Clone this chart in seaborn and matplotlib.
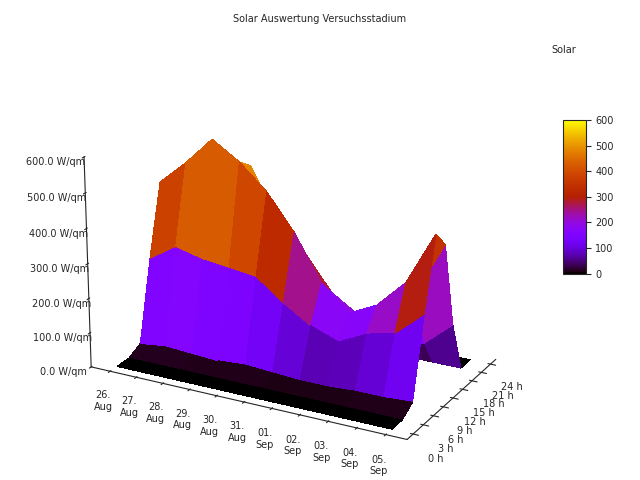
import numpy as np
import matplotlib
matplotlib.use("Agg")
import matplotlib.pyplot as plt
import seaborn as sns

sns.set_style("white")
plt.rcParams['font.family'] = ['DejaVu Sans']

days = ["26.\nAug", "27.\nAug", "28.\nAug", "29.\nAug", "30.\nAug", "31.\nAug",
        "01.\nSep", "02.\nSep", "03.\nSep", "04.\nSep", "05.\nSep"]
hours = [0, 3, 6, 9, 12, 15, 18, 21, 24]
hour_labels = ["0 h", "3 h", "6 h", "9 h", "12 h", "15 h", "18 h", "21 h", "24 h"]
solar = [
    [0, 0, 20, 250, 450, 400, 120, 0, 0],
    [0, 0, 30, 300, 520, 480, 150, 0, 0],
    [0, 0, 25, 280, 600, 500, 140, 0, 0],
    [0, 0, 20, 270, 550, 520, 130, 0, 0],
    [0, 0, 25, 260, 480, 380, 100, 0, 0],
    [0, 0, 20, 200, 380, 300, 80, 0, 0],
    [0, 0, 15, 150, 250, 200, 60, 0, 0],
    [0, 0, 15, 120, 180, 150, 50, 0, 0],
    [0, 0, 20, 160, 220, 180, 60, 0, 0],
    [0, 0, 20, 180, 300, 250, 80, 0, 0],
    [0, 0, 25, 250, 450, 400, 150, 0, 0],
]

Z = np.array(solar, dtype=float)
X, Y = np.meshgrid(np.arange(len(days)), hours, indexing="ij")

fig = plt.figure(figsize=(6.4, 4.8), dpi=100)
ax = fig.add_axes([0.0, -0.03, 0.9, 0.95], projection="3d")
ax.set_box_aspect((2.2, 1.3, 1.4))
surf = ax.plot_surface(X, Y, Z, cmap="gnuplot", vmin=0, vmax=600,
                       linewidth=0, antialiased=False, shade=False)
ax.set_xticks(np.arange(len(days)))
ax.set_xticklabels(days, fontsize=7)
ax.set_yticks(hours)
ax.set_yticklabels(hour_labels, fontsize=7)
ax.set_zlim(0, 600)
ax.set_zticks([0, 100, 200, 300, 400, 500, 600])
ax.set_zticklabels([f"{v:.1f} W/qm" for v in range(0, 601, 100)], fontsize=7)
ax.view_init(elev=22, azim=-62)
ax.zaxis.set_ticks_position('lower')
for a in (ax.xaxis, ax.yaxis, ax.zaxis):
    a.pane.fill = False
    a.pane.set_edgecolor("white")
ax.grid(False)

cax = fig.add_axes([0.88, 0.43, 0.035, 0.32])
cb = fig.colorbar(surf, cax=cax)
cb.set_ticks([0, 100, 200, 300, 400, 500, 600])
cb.ax.tick_params(labelsize=7)
fig.text(0.5, 0.955, "Solar Auswertung Versuchsstadium", ha="center", fontsize=7)
fig.text(0.9, 0.89, "Solar", ha="right", fontsize=7)
fig.savefig("out.png", dpi=100)
